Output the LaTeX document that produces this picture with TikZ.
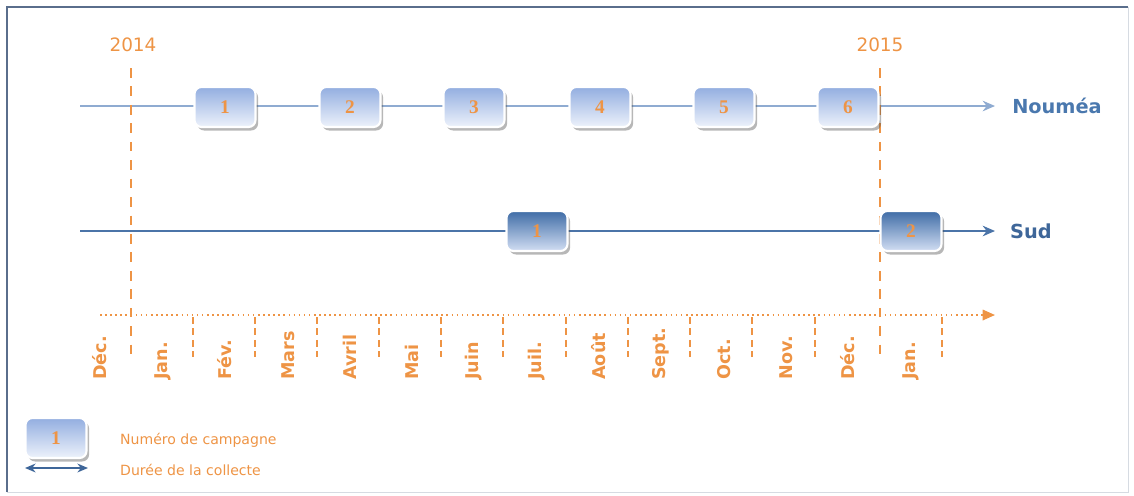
\documentclass[tikz,border=0pt]{standalone}
\usepackage{fontspec}
\setmainfont{DejaVu Sans}
\newfontfamily\numfont{Liberation Serif}
\usetikzlibrary{arrows.meta,shadows}
\definecolor{org}{HTML}{EE9445}
\definecolor{nline}{HTML}{8FABD1}
\definecolor{nlab}{HTML}{4A78AE}
\definecolor{sline}{HTML}{4B74A8}
\definecolor{slab}{HTML}{3E6699}
\definecolor{frame}{HTML}{5A6E8C}
\definecolor{ntop}{HTML}{93AEE0}
\definecolor{nbot}{HTML}{EDF2FB}
\definecolor{stop}{HTML}{3F6CA6}
\definecolor{sbot}{HTML}{D2DEF3}
\tikzset{
  nbox/.style={draw=white, line width=1.2pt, rounded corners=4pt, minimum width=1.22cm, minimum height=0.8cm,
    top color=ntop, bottom color=nbot, font=\numfont\bfseries\fontsize{11}{13}\selectfont, text=org,
    drop shadow={shadow xshift=1.5pt, shadow yshift=-2pt, opacity=0.4, fill=black!70}},
  sbox/.style={nbox, top color=stop, bottom color=sbot},
  yearline/.style={draw=org, line width=1.5pt, dash pattern=on 5.5pt off 5pt},
  tick/.style={draw=org, line width=0.9pt, dash pattern=on 4pt off 2.5pt},
  month/.style={rotate=90, anchor=west, text=org, font=\bfseries\fontsize{10}{12}\selectfont, inner sep=0pt},
  yearlab/.style={text=org, font=\fontsize{10.5}{12}\selectfont},
  rowlab/.style={font=\bfseries\fontsize{11}{13}\selectfont},
  legtext/.style={text=org, font=\fontsize{8}{10}\selectfont, anchor=west}
}
\begin{document}
\begin{tikzpicture}[x=0.02cm,y=-0.02cm]
\useasboundingbox (0,0) rectangle (1134,495);
% frame
\draw[frame!25, line width=0.5pt] (1128,7) -- (1128,492) -- (7,492);
\draw[frame, line width=1pt] (7,492) -- (7,7) -- (1128,7);

% coordinates
\coordinate (nA) at (80,106); \coordinate (nB) at (995,106);
\coordinate (sA) at (80,231); \coordinate (sB) at (995,231);
\coordinate (tA) at (100,315); \coordinate (tB) at (995,315);

% row lines
\draw[nline, line width=1.5pt, -{Stealth[length=7pt,width=6pt]}] (nA) -- (nB);
\draw[sline, line width=1.5pt, -{Stealth[length=7pt,width=6pt]}] (sA) -- (sB);
\draw[org, line width=0.9pt, dotted, -{Triangle[length=7pt,width=6pt]}] (tA) -- (tB);

% year lines
\coordinate (y14a) at (131,68); \coordinate (y14b) at (131,357);
\coordinate (y15a) at (880,68); \coordinate (y15b) at (880,357);
\draw[yearline] (y14a) -- (y14b);
\draw[yearline] (y15a) -- (y15b);
\node[yearlab] (l2014) at (133,45) {2014};
\node[yearlab] (l2015) at (880,45) {2015};

% month ticks
\foreach \x [count=\i] in {193,255,317,379,441,503,566,628,690,752,815,942}{
  \coordinate (ta\i) at (\x,317); \coordinate (tb\i) at (\x,357);
  \draw[tick] (ta\i) -- (tb\i);
}
% month labels
\foreach \x/\m [count=\i] in {100/Déc.,163/Jan.,225/Fév.,288/Mars,350/Avril,412/Mai,474/Juin,537/Juil.,599/Août,661/Sept.,724/Oct.,786/Nov.,848/Déc.,911/Jan.}{
  \node[month] (m\i) at (\x,380) {\m};
}

% Nouméa boxes
\node[nbox] (n1) at (225,107) {1};
\node[nbox] (n2) at (350,107) {2};
\node[nbox] (n3) at (474,107) {3};
\node[nbox] (n4) at (600,107) {4};
\node[nbox] (n5) at (724,107) {5};
\node[nbox] (n6) at (848,107) {6};
\node[rowlab, text=nlab] (noumea) at (1057,106) {Nouméa};

% Sud boxes
\node[sbox] (s1) at (537,231) {1};
\node[sbox] (s2) at (911,231) {2};
\node[rowlab, text=slab] (sud) at (1031,231) {Sud};

% legend
\node[nbox] (lb) at (56,438) {1};
\coordinate (la) at (25,468); \coordinate (lc) at (88,468);
\draw[slab, line width=1.3pt, {Stealth[length=6pt,width=5pt]}-{Stealth[length=6pt,width=5pt]}] (la) -- (lc);
\node[legtext] (lt1) at (114,440) {Numéro de campagne};
\node[legtext] (lt2) at (114,470) {Durée de la collecte};
\end{tikzpicture}
\end{document}
